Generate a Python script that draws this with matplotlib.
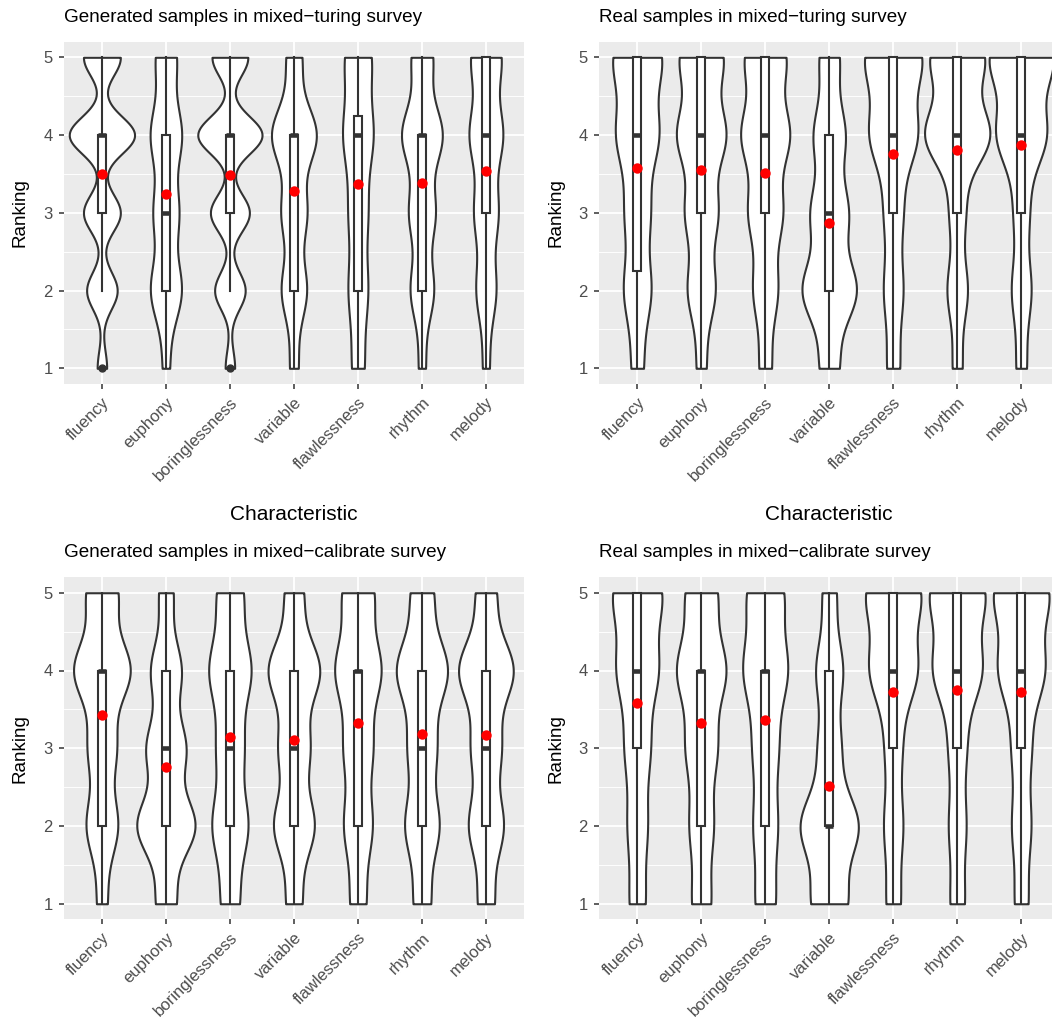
import numpy as np
import matplotlib.pyplot as plt
from matplotlib.patches import Rectangle

plt.rcParams['font.family'] = ['Liberation Sans', 'DejaVu Sans']

characteristics = ['fluency', 'euphony', 'boringlessness', 'variable',
                   'flawlessness', 'rhythm', 'melody']
rankings = [1, 2, 3, 4, 5]

# number of answers giving ranking 1..5, one row per characteristic
gen_turing = [
    [9, 29, 35, 62, 35],
    [10, 46, 37, 46, 31],
    [9, 29, 37, 61, 34],
    [12, 36, 36, 64, 22],
    [20, 31, 30, 48, 43],
    [10, 34, 38, 59, 31],
    [10, 30, 36, 50, 46],
]
real_turing = [
    [13, 30, 27, 46, 54],
    [10, 29, 34, 51, 46],
    [13, 26, 36, 51, 44],
    [20, 57, 39, 33, 21],
    [14, 21, 20, 52, 63],
    [10, 21, 16, 67, 56],
    [11, 21, 16, 53, 69],
]
gen_calibrate = [
    [11, 34, 30, 61, 34],
    [21, 61, 41, 32, 15],
    [21, 41, 30, 48, 30],
    [17, 44, 33, 56, 20],
    [18, 32, 32, 52, 36],
    [19, 38, 31, 57, 25],
    [18, 38, 32, 60, 22],
]
real_calibrate = [
    [18, 22, 28, 46, 56],
    [21, 26, 34, 54, 35],
    [23, 27, 28, 50, 42],
    [39, 63, 24, 29, 15],
    [16, 21, 18, 53, 62],
    [16, 19, 19, 54, 62],
    [15, 21, 21, 51, 62],
]

titles = ['Generated samples in mixed\u2212turing survey',
          'Real samples in mixed\u2212turing survey',
          'Generated samples in mixed\u2212calibrate survey',
          'Real samples in mixed\u2212calibrate survey']

W, H = 1052, 1030
LINE = '#333333'
LW = 1.5
BOX_W = 0.13


def bw_nrd0(x):
    q25, q75 = np.percentile(x, [25, 75])
    lo = min(np.std(x, ddof=1), (q75 - q25) / 1.34)
    return 0.9 * lo * len(x) ** -0.2


def density(x, grid):
    h = bw_nrd0(x)
    z = (grid[:, None] - x[None, :]) / h
    return np.exp(-0.5 * z ** 2).sum(axis=1) / (len(x) * h * np.sqrt(2 * np.pi))


def draw_panel(ax, counts, vwidth):
    samples = [np.repeat(rankings, c).astype(float) for c in counts]
    grid = np.linspace(1, 5, 400)
    dens = [density(s, grid) for s in samples]
    top = max(d.max() for d in dens)
    for i, (s, d) in enumerate(zip(samples, dens), start=1):
        half = d / top * vwidth / 2
        ax.fill_betweenx(grid, i - half, i + half, facecolor='white',
                         edgecolor=LINE, linewidth=LW, zorder=2)
        q1, med, q3 = np.percentile(s, [25, 50, 75])
        iqr = q3 - q1
        inside = s[(s >= q1 - 1.5 * iqr) & (s <= q3 + 1.5 * iqr)]
        lo, hi = inside.min(), inside.max()
        ax.plot([i, i], [lo, q1], color=LINE, lw=LW, zorder=3)
        ax.plot([i, i], [q3, hi], color=LINE, lw=LW, zorder=3)
        ax.add_patch(Rectangle((i - BOX_W / 2, q1), BOX_W, q3 - q1,
                               facecolor='white', edgecolor=LINE, lw=LW, zorder=3))
        ax.plot([i - BOX_W / 2, i + BOX_W / 2], [med, med], color=LINE,
                lw=LW * 2.2, solid_capstyle='butt', zorder=4)
        out = np.unique(s[(s < lo) | (s > hi)])
        ax.plot(np.full(len(out), i), out, 'o', color=LINE, ms=5, zorder=4)
        ax.plot(i, s.mean(), 'o', color='red', ms=7.5, mec='none', zorder=5)


def style(ax):
    ax.set_facecolor('#EBEBEB')
    for sp in ax.spines.values():
        sp.set_visible(False)
    ax.set_xlim(0.4, 7.6)
    ax.set_ylim(0.8, 5.2)
    ax.set_xticks(range(1, 8))
    ax.set_xticklabels(characteristics, rotation=45, ha='right', va='top',
                       rotation_mode='anchor', fontsize=12, color='#4D4D4D')
    ax.set_yticks(rankings)
    ax.set_yticklabels([str(r) for r in rankings], fontsize=12, color='#4D4D4D')
    ax.set_yticks([1.5, 2.5, 3.5, 4.5], minor=True)
    ax.grid(which='major', color='white', lw=1.3)
    ax.grid(which='minor', axis='y', color='white', lw=0.65)
    ax.set_axisbelow(True)
    ax.tick_params(which='major', length=3.8, width=1.1, color=LINE, pad=4)
    ax.tick_params(which='minor', length=0)


fig = plt.figure(figsize=(W / 100, H / 100), dpi=100)

pw, ph = 460.8, 342.1
panels = [(63.5, 41.75, gen_turing, 1.02),
          (598.8, 41.75, real_turing, 1.02),
          (63.5, 577.2, gen_calibrate, 0.91),
          (598.8, 577.2, real_calibrate, 0.91)]

for k, (left, top, counts, vw) in enumerate(panels):
    ax = fig.add_axes([left / W, 1 - (top + ph) / H, pw / W, ph / H])
    style(ax)
    draw_panel(ax, counts, vw)
    fig.text(left / W, 1 - (top - 20) / H, titles[k], ha='left', va='baseline',
             fontsize=13.6)
    fig.text((left - 43) / W, 1 - (top + ph / 2) / H, 'Ranking', rotation=90,
             ha='center', va='center', fontsize=13.6)
    if k < 2:
        fig.text((left + pw / 2) / W, 1 - (top + ph + 136) / H, 'Characteristic',
                 ha='center', va='baseline', fontsize=15)

fig.savefig('out.png', dpi=100, facecolor='white')
